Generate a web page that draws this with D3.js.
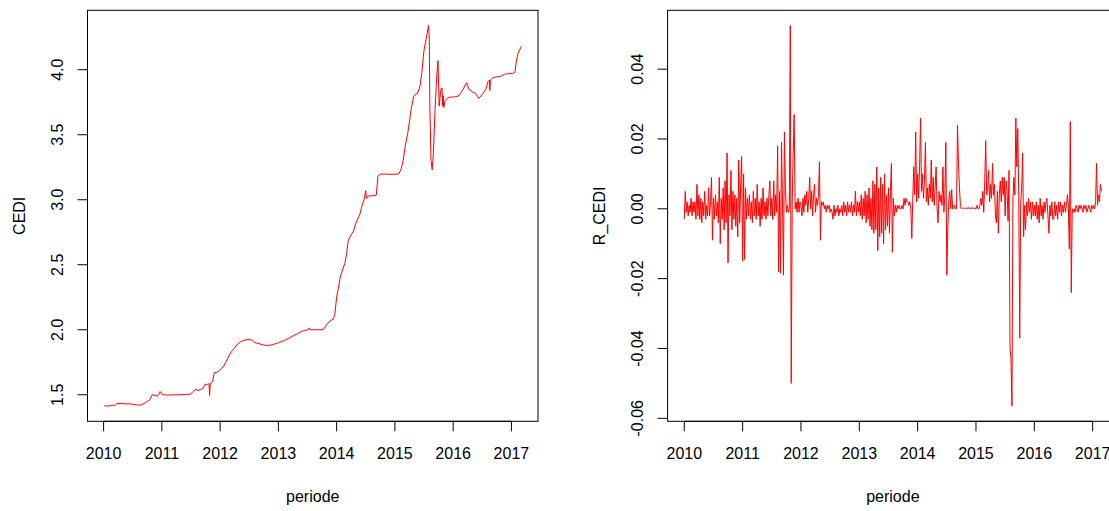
<!DOCTYPE html>
<html>
<head>
<meta charset="utf-8">
<script src="https://cdn.jsdelivr.net/npm/d3@7"></script>
<style>
body { margin: 0; background: #ffffff; }
svg text { font-family: "Liberation Sans", Arial, sans-serif; fill: #000; }
</style>
</head>
<body>
<div id="plots"></div>
<script>
// CEDI level (decimal year, value)
var cediDates = [
	2010.01, 2010.08, 2010.15, 2010.20, 2010.23, 2010.30, 2010.38, 2010.46, 2010.52, 2010.58,
	2010.63, 2010.68, 2010.72, 2010.76, 2010.80, 2010.83, 2010.88, 2010.92, 2010.95, 2010.97,
	2011.00, 2011.03, 2011.10, 2011.20, 2011.30, 2011.40, 2011.49, 2011.54, 2011.59, 2011.62,
	2011.66, 2011.71, 2011.74, 2011.78, 2011.81, 2011.82, 2011.83, 2011.87, 2011.90, 2011.94,
	2011.97, 2012.02, 2012.06, 2012.10, 2012.14, 2012.19, 2012.23, 2012.30, 2012.36, 2012.40,
	2012.48, 2012.55, 2012.60, 2012.66, 2012.72, 2012.80, 2012.90, 2013.00, 2013.09, 2013.18,
	2013.26, 2013.33, 2013.40, 2013.46, 2013.51, 2013.53, 2013.55, 2013.65, 2013.77, 2013.83,
	2013.89, 2013.94, 2013.97, 2014.00, 2014.03, 2014.06, 2014.10, 2014.14, 2014.17, 2014.20,
	2014.25, 2014.29, 2014.33, 2014.38, 2014.40, 2014.44, 2014.47, 2014.50, 2014.51, 2014.55,
	2014.62, 2014.68, 2014.71, 2014.74, 2014.80, 2014.90, 2015.00, 2015.07, 2015.11, 2015.14,
	2015.18, 2015.22, 2015.25, 2015.28, 2015.32, 2015.35, 2015.39, 2015.43, 2015.46, 2015.50,
	2015.55, 2015.577, 2015.59, 2015.60, 2015.62, 2015.64, 2015.66, 2015.69, 2015.72, 2015.74,
	2015.76, 2015.79, 2015.81, 2015.82, 2015.83, 2015.84, 2015.86, 2015.90, 2015.95, 2016.02,
	2016.10, 2016.17, 2016.23, 2016.27, 2016.33, 2016.38, 2016.44, 2016.50, 2016.56, 2016.60,
	2016.62, 2016.63, 2016.64, 2016.68, 2016.75, 2016.82, 2016.88, 2016.95, 2017.02, 2017.06,
	2017.08, 2017.11, 2017.14, 2017.17
];
var cediValues = [
	1.415, 1.413, 1.418, 1.420, 1.433, 1.432, 1.430, 1.430, 1.425, 1.422,
	1.420, 1.430, 1.440, 1.452, 1.465, 1.500, 1.495, 1.490, 1.505, 1.525,
	1.505, 1.500, 1.497, 1.500, 1.500, 1.502, 1.505, 1.525, 1.545, 1.530,
	1.540, 1.550, 1.580, 1.580, 1.585, 1.495, 1.585, 1.600, 1.670, 1.672,
	1.680, 1.700, 1.720, 1.750, 1.790, 1.830, 1.850, 1.890, 1.910, 1.918,
	1.925, 1.920, 1.900, 1.895, 1.885, 1.878, 1.885, 1.900, 1.915, 1.935,
	1.955, 1.970, 1.988, 1.995, 2.000, 2.015, 2.000, 2.000, 2.000, 2.040,
	2.070, 2.080, 2.120, 2.250, 2.320, 2.400, 2.460, 2.510, 2.580, 2.690,
	2.730, 2.760, 2.820, 2.870, 2.890, 2.960, 3.000, 3.070, 3.010, 3.030,
	3.030, 3.035, 3.180, 3.196, 3.198, 3.196, 3.196, 3.200, 3.240, 3.300,
	3.420, 3.510, 3.600, 3.700, 3.790, 3.810, 3.820, 3.870, 3.970, 4.150,
	4.270, 4.340, 4.250, 3.720, 3.300, 3.230, 3.350, 3.700, 3.960, 4.070,
	3.720, 3.850, 3.860, 3.720, 3.800, 3.710, 3.760, 3.780, 3.790, 3.790,
	3.800, 3.850, 3.900, 3.850, 3.830, 3.820, 3.780, 3.810, 3.850, 3.910,
	3.920, 3.840, 3.920, 3.940, 3.945, 3.950, 3.965, 3.970, 3.970, 3.980,
	4.050, 4.120, 4.150, 4.180
];

// R_CEDI returns, 60 readings per year
var r2010 = [
	-0.003, 0.005, -0.001, 0.002, -0.002, 0.001, -0.001, 0.003, -0.002, 0.002,
	-0.001, 0.002, -0.003, 0.007, -0.002, 0.004, -0.003, 0.003, -0.004, 0.002,
	-0.002, 0.005, -0.003, 0.001, -0.002, 0.006, -0.002, 0.002, 0.009, -0.009,
	0.003, -0.003, 0.004, -0.002, 0.002, -0.004, 0.009, -0.010, 0.003, -0.003,
	0.006, -0.006, 0.008, -0.004, 0.016, -0.0155, 0.004, -0.002, 0.011, -0.006,
	0.005, -0.003, 0.004, -0.005, 0.003, -0.008, 0.014, -0.004, 0.007, 0.015
];
var r2011 = [
	-0.015, 0.010, -0.0145, 0.006, -0.003, 0.003, -0.002, 0.004, -0.003, 0.002,
	-0.004, 0.005, -0.002, 0.003, -0.003, 0.007, -0.002, 0.002, -0.005, 0.003,
	-0.003, 0.006, -0.002, 0.002, -0.003, 0.003, -0.002, 0.004, 0.008, -0.002,
	0.003, -0.003, 0.008, -0.002, 0.004, -0.001, 0.018, -0.018, 0.005, -0.0185,
	0.019, 0.002, -0.019, 0.022, 0.006, -0.001, 0.001, -0.001, 0.000, 0.0525,
	-0.050, 0.002, 0.016, 0.027, 0.000, 0.002, -0.001, 0.003, -0.001, 0.002
];
var r2012 = [
	0.001, -0.002, 0.003, -0.001, 0.004, 0.001, 0.005, -0.001, 0.003, 0.009,
	0.000, 0.005, -0.002, 0.004, 0.007, -0.001, 0.003, 0.001, 0.004, 0.0135,
	-0.009, 0.002, 0.001, 0.002, 0.000, 0.001, -0.001, 0.001, 0.000, 0.001,
	-0.001, 0.000, -0.001, -0.003, 0.001, -0.002, 0.000, -0.001, 0.001, -0.002,
	0.000, -0.001, 0.001, -0.002, 0.002, -0.001, 0.001, -0.002, 0.002, -0.001,
	0.001, -0.001, 0.002, -0.002, 0.001, -0.001, 0.005, -0.002, 0.002, -0.001
];
var r2013 = [
	0.002, -0.002, 0.004, -0.003, 0.003, -0.002, 0.005, -0.004, 0.004, -0.003,
	0.006, -0.005, 0.003, -0.006, 0.008, -0.007, 0.007, -0.006, 0.012, -0.012,
	0.006, -0.008, 0.009, -0.007, 0.007, -0.010, 0.010, -0.006, 0.004, -0.005,
	0.006, -0.007, 0.005, 0.013, -0.0125, 0.003, -0.002, 0.001, -0.001, 0.001,
	0.000, 0.001, 0.000, 0.000, 0.001, 0.000, 0.003, 0.001, 0.003, 0.002,
	0.002, 0.001, 0.002, 0.000, -0.0085, 0.003, 0.012, 0.004, 0.022, 0.002
];
var r2014 = [
	0.010, 0.003, 0.012, 0.026, 0.005, 0.010, 0.003, 0.008, 0.019, 0.002,
	0.006, 0.001, 0.007, 0.003, 0.014, 0.002, 0.009, 0.001, 0.006, 0.012,
	0.000, -0.004, 0.005, 0.002, 0.004, 0.001, 0.012, -0.001, 0.004, 0.019,
	-0.019, -0.0055, 0.002, 0.005, 0.000, 0.0055, 0.000, 0.000, 0.001, 0.000,
	0.000, 0.024, 0.013, 0.006, 0.001, 0.000, 0.0003, 0.000, 0.0003, 0.000,
	0.0003, 0.000, 0.0004, 0.000, 0.0003, 0.000, 0.0004, 0.000, 0.0003, 0.000
];
var r2015 = [
	0.000, 0.001, 0.000, 0.000, 0.001, 0.003, 0.001, 0.005, -0.001, 0.008,
	0.0195, 0.004, 0.006, 0.011, 0.002, 0.007, 0.003, 0.013, 0.004, 0.007,
	-0.002, -0.004, 0.005, -0.007, 0.004, 0.008, 0.002, 0.009, 0.004, 0.009,
	-0.002, 0.008, 0.005, -0.0035, 0.011, -0.040, -0.043, -0.0565, 0.003, 0.009,
	0.004, 0.026, 0.012, 0.023, 0.003, -0.037, 0.002, 0.006, 0.016, -0.008,
	0.001, -0.006, 0.002, -0.002, 0.003, -0.001, 0.002, -0.003, 0.002, -0.002
];
var r2016 = [
	0.001, -0.002, 0.002, -0.003, 0.001, -0.004, 0.003, -0.002, 0.001, -0.003,
	0.002, -0.001, 0.002, 0.003, -0.002, -0.007, 0.001, -0.002, 0.002, -0.003,
	-0.003, 0.002, -0.002, 0.001, -0.003, 0.002, -0.001, 0.002, -0.002, 0.001,
	-0.001, 0.002, -0.001, 0.001, 0.004, 0.001, -0.0115, 0.025, -0.024, 0.000,
	-0.001, 0.000, -0.001, 0.001, 0.000, -0.001, 0.001, 0.000, 0.001, 0.000,
	-0.001, 0.001, 0.000, 0.001, -0.001, 0.000, 0.001, 0.000, -0.001, 0.001
];
var r2017 = [0.000, 0.001, 0.000, 0.002, 0.013, 0.001, 0.004, 0.002, 0.007, 0.005];
var returnYears = [2010, 2011, 2012, 2013, 2014, 2015, 2016, 2017];
var readingsPerYear = 60;

var yearTicks = [2010, 2011, 2012, 2013, 2014, 2015, 2016, 2017];
var cediTicks = [1.5, 2.0, 2.5, 3.0, 3.5, 4.0];
var returnTicks = [-0.06, -0.04, -0.02, 0.00, 0.02, 0.04];

window.onload = draw_plots;

// R style axis limits: data range widened by 4% on each side
function r_extent(values) {
	var lo = d3.min(values), hi = d3.max(values);
	var pad = (hi - lo) * 0.04;
	return [lo - pad, hi + pad];
}

function draw_panel(svg, left, series, yTicks, yDigits, yName) {
	var top = 10.3, bottom = 421.3, width = 450.5;
	var tick = 10;

	var x = d3.scaleLinear()
		.domain(r_extent(series.map(function(d) { return d[0]; })))
		.range([left, left + width]);
	var y = d3.scaleLinear()
		.domain(r_extent(series.map(function(d) { return d[1]; })))
		.range([bottom, top]);

	var line = d3.line()
		.x(function(d) { return x(d[0]); })
		.y(function(d) { return y(d[1]); });

	svg.append('path')
		.datum(series)
		.attr('d', line)
		.attr('fill', 'none')
		.attr('stroke', '#ff0000')
		.attr('stroke-width', 1);

	// bottom axis (R draws it from first to last tick)
	var xAxis = svg.append('g').attr('class', 'x axis');
	xAxis.append('line')
		.attr('x1', x(yearTicks[0])).attr('x2', x(yearTicks[yearTicks.length - 1]))
		.attr('y1', bottom).attr('y2', bottom)
		.attr('stroke', '#000');
	xAxis.selectAll('.tick')
		.data(yearTicks)
		.enter()
		.append('line')
		.attr('x1', function(d) { return x(d); })
		.attr('x2', function(d) { return x(d); })
		.attr('y1', bottom).attr('y2', bottom + tick)
		.attr('stroke', '#000');
	xAxis.selectAll('text')
		.data(yearTicks)
		.enter()
		.append('text')
		.attr('x', function(d) { return x(d); })
		.attr('y', 459)
		.attr('text-anchor', 'middle')
		.style('font-size', '16px')
		.text(function(d) { return d; });

	// left axis, labels parallel to the axis
	var yAxis = svg.append('g').attr('class', 'y axis');
	yAxis.selectAll('line')
		.data(yTicks)
		.enter()
		.append('line')
		.attr('x1', left - tick).attr('x2', left)
		.attr('y1', function(d) { return y(d); })
		.attr('y2', function(d) { return y(d); })
		.attr('stroke', '#000');
	yAxis.selectAll('text')
		.data(yTicks)
		.enter()
		.append('text')
		.attr('transform', function(d) {
			return 'translate(' + (left - 30.5) + ',' + y(d) + ') rotate(-90)';
		})
		.attr('dy', '0.35em')
		.attr('text-anchor', 'middle')
		.style('font-size', '16px')
		.text(function(d) { return d.toFixed(yDigits); });

	svg.append('rect')
		.attr('x', left).attr('y', top)
		.attr('width', width).attr('height', bottom - top)
		.attr('fill', 'none')
		.attr('stroke', '#000');

	svg.append('text')
		.attr('x', left + width / 2)
		.attr('y', 502)
		.attr('text-anchor', 'middle')
		.style('font-size', '16px')
		.text('periode');

	svg.append('text')
		.attr('transform', 'translate(' + (left - 68.5) + ',' + ((top + bottom) / 2) + ') rotate(-90)')
		.attr('dy', '0.35em')
		.attr('text-anchor', 'middle')
		.style('font-size', '16px')
		.text(yName);
}

function draw_plots() {
	var svg = d3.select('#plots')
		.append('svg')
		.attr('width', 1109)
		.attr('height', 511);

	var cedi = cediDates.map(function(d, i) { return [d, cediValues[i]]; });

	var returnArrays = [r2010, r2011, r2012, r2013, r2014, r2015, r2016, r2017];
	var returns = [];
	returnArrays.forEach(function(arr, k) {
		arr.forEach(function(v, i) {
			returns.push([returnYears[k] + i / readingsPerYear, v]);
		});
	});

	draw_panel(svg, 87.5, cedi, cediTicks, 1, 'CEDI');
	draw_panel(svg, 667.6, returns, returnTicks, 2, 'R_CEDI');
}
</script>
</body>
</html>
